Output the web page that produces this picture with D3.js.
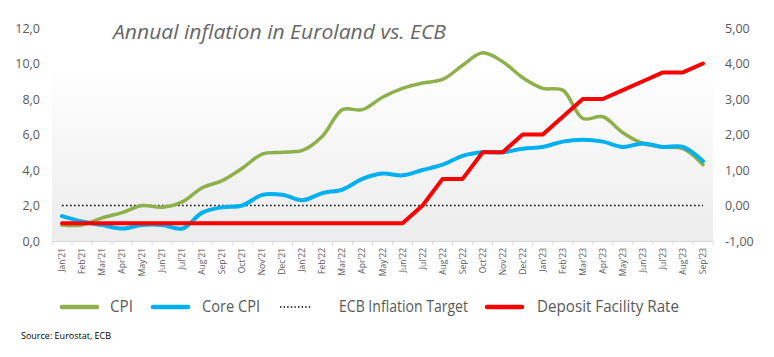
<!DOCTYPE html>
<html><head><meta charset="utf-8">
<script src="https://cdn.jsdelivr.net/npm/d3@7/dist/d3.min.js"></script>
<style>body{margin:0;background:#fff;}svg{display:block;}</style>
</head><body><svg id="c" width="774" height="357"></svg>
<script>
const months = ["Jan'21","Feb'21","Mar'21","Apr'21","May'21","Jun'21","Jul'21","Aug'21","Sep'21","Oct'21","Nov'21","Dec'21",
"Jan'22","Feb'22","Mar'22","Apr'22","May'22","Jun'22","Jul'22","Aug'22","Sep'22","Oct'22","Nov'22","Dec'22",
"Jan'23","Feb'23","Mar'23","Apr'23","May'23","Jun'23","Jul'23","Aug'23","Sep'23"];
const cpi = [0.9,0.9,1.3,1.6,2.0,1.9,2.2,3.0,3.4,4.1,4.9,5.0,5.1,5.9,7.4,7.4,8.1,8.6,8.9,9.1,9.9,10.6,10.1,9.2,8.6,8.5,6.9,7.0,6.1,5.5,5.3,5.2,4.3];
const coreCpi = [1.4,1.1,0.9,0.7,0.9,0.9,0.7,1.6,1.9,2.0,2.6,2.6,2.3,2.7,2.9,3.5,3.8,3.7,4.0,4.3,4.8,5.0,5.0,5.2,5.3,5.6,5.7,5.6,5.3,5.5,5.3,5.3,4.5];
const ecbTarget = months.map(() => 2.0);
const depositRate = [-0.5,-0.5,-0.5,-0.5,-0.5,-0.5,-0.5,-0.5,-0.5,-0.5,-0.5,-0.5,-0.5,-0.5,-0.5,-0.5,-0.5,-0.5,
0.0,0.75,0.75,1.5,1.5,2.0,2.0,2.5,3.0,3.0,3.25,3.5,3.75,3.75,4.0];
const leftTicks = [0,2,4,6,8,10,12];
const rightTicks = [-1,0,1,2,3,4,5];
const title = "Annual inflation in Euroland vs. ECB";
const source = "Source: Eurostat, ECB";
const legendItems = ["CPI","Core CPI","ECB Inflation Target","Deposit Facility Rate"];

const svg = d3.select("#c");
const L = 52, R = 713, T = 28, B = 241;
const x = d3.scaleBand().domain(months).range([L, R]);
const yL = d3.scaleLinear().domain([0,12]).range([B, T]);
const yR = d3.scaleLinear().domain([-1,5]).range([B, T]);
const cx = d => x(d) + x.bandwidth()/2;

const defs = svg.append("defs");
const g = defs.append("linearGradient").attr("id","bg").attr("x1",0).attr("y1",0).attr("x2",0).attr("y2",1);
g.append("stop").attr("offset","0%").attr("stop-color","#ffffff");
g.append("stop").attr("offset","100%").attr("stop-color","#ececec");
svg.append("rect").attr("x",L).attr("y",yL(10)).attr("width",R-L).attr("height",B-yL(10)).attr("fill","url(#bg)");

const font = "'Open Sans', Lato, sans-serif";
// Left axis
const la = svg.append("g").attr("transform",`translate(${L},0)`)
  .call(d3.axisLeft(yL).tickValues(leftTicks).tickSize(0).tickPadding(12).tickFormat(d => d3.format(".1f")(d).replace(".",",")));
la.select(".domain").remove();
la.selectAll("text").attr("font-family",font).attr("font-size",12.5).attr("fill","#595959");
// Right axis
const ra = svg.append("g").attr("transform",`translate(${R},0)`)
  .call(d3.axisRight(yR).tickValues(rightTicks).tickSize(0).tickPadding(12).tickFormat(d => d3.format(".2f")(d).replace(".",",").replace("−","-")));
ra.select(".domain").remove();
ra.selectAll("text").attr("font-family",font).attr("font-size",12.5).attr("fill","#595959");

// X axis
const xa = svg.append("g").attr("transform",`translate(0,${B})`).call(d3.axisBottom(x).tickSize(0).tickFormat(""));
xa.select(".domain").attr("stroke","#d9d9d9");
xa.selectAll(".tick").remove();
const xg = svg.append("g");
months.forEach((m,i) => {
  const xe = x(m);
  xg.append("line").attr("x1",xe).attr("x2",xe).attr("y1",B).attr("y2",B+4).attr("stroke","#d9d9d9");
});
xg.append("line").attr("x1",R).attr("x2",R).attr("y1",B).attr("y2",B+4).attr("stroke","#d9d9d9");
months.forEach(m => {
  xg.append("text").attr("transform",`translate(${cx(m)+3},${B+7}) rotate(-90)`)
    .attr("text-anchor","end").attr("font-family",font).attr("font-size",8.5).attr("fill","#595959").text(m);
});

// ECB target dotted
svg.append("path").datum(ecbTarget)
  .attr("d", d3.line().x((d,i)=>cx(months[i])).y(d=>yL(d)))
  .attr("fill","none").attr("stroke","#000").attr("stroke-width",1.6).attr("stroke-dasharray","1.6,2.4");

const smooth = d3.line().x((d,i)=>cx(months[i])).y(d=>yL(d)).curve(d3.curveCatmullRom.alpha(0.5));
svg.append("path").datum(cpi).attr("d",smooth).attr("fill","none").attr("stroke","#8db04b").attr("stroke-width",3.5).attr("stroke-linejoin","round").attr("stroke-linecap","round");
svg.append("path").datum(coreCpi).attr("d",smooth).attr("fill","none").attr("stroke","#00b0f0").attr("stroke-width",4).attr("stroke-linejoin","round").attr("stroke-linecap","round");
svg.append("path").datum(depositRate)
  .attr("d", d3.line().x((d,i)=>cx(months[i])).y(d=>yR(d)))
  .attr("fill","none").attr("stroke","#ff0000").attr("stroke-width",4).attr("stroke-linejoin","round").attr("stroke-linecap","round");

// Title
svg.append("text").attr("x",113).attr("y",39).attr("font-family",font).attr("font-style","italic")
  .attr("font-size",20.5).attr("fill","#666").text(title).attr("textLength",333).attr("lengthAdjust","spacingAndGlyphs");

// Legend
const lg = svg.append("g").attr("font-family",font).attr("font-size",15.5).attr("fill","#595959");
const ly = 307;
const sw = [[62,97,110,23,"#8db04b",null],[153,188,202,58,"#00b0f0",null],[280,312,339,129,"#000","1.4,2.2"],[487,522,537,142,"#ff0000",null]];
legendItems.forEach((t,i) => {
  const [a,b,tx,tw,col,dash] = sw[i];
  const ln = lg.append("line").attr("x1",a).attr("x2",b).attr("y1",ly).attr("y2",ly).attr("stroke",col)
    .attr("stroke-width", dash ? 1.4 : 4.5).attr("stroke-linecap", dash ? "butt" : "round");
  if (dash) ln.attr("stroke-dasharray",dash);
  lg.append("text").attr("x",tx).attr("y",ly).attr("dy","0.35em").attr("textLength",tw).attr("lengthAdjust","spacingAndGlyphs").text(t);
});

svg.append("text").attr("x",21).attr("y",339).attr("font-family",font).attr("font-size",9).attr("fill","#000").text(source);
</script></body></html>
